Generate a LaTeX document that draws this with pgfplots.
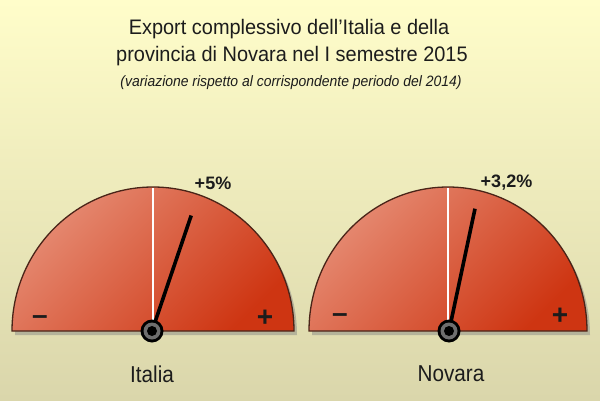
\documentclass[border=0pt]{standalone}
\usepackage{pgfplots}
\pgfplotsset{compat=1.18}
\usepackage{fontspec}
\setmainfont{Liberation Sans}
\definecolor{bgtop}{HTML}{FFFDCA}
\definecolor{bgbot}{HTML}{DAD6AB}
\definecolor{glight}{HTML}{E68C74}
\definecolor{gdark}{HTML}{CE3512}
\definecolor{gedge}{HTML}{4A2418}
\definecolor{txt}{HTML}{1C1C1C}
\definecolor{pivgray}{HTML}{6E6E6E}
\begin{document}
\begin{tikzpicture}
\begin{axis}[width=600pt,height=400pt,scale only axis,
  xmin=0,xmax=600,ymin=0,ymax=400,hide axis,clip=false]
% background
\shade[top color=bgtop,bottom color=bgbot] (axis cs:0,0) rectangle (axis cs:600,400);
% ---- Italia gauge
\fill[black!50,opacity=0.45] (axis cs:15,65) arc[start angle=180,end angle=0,x radius=141pt,y radius=144pt] -- cycle;
\shade[top color=glight,bottom color=gdark,shading angle=45] (axis cs:12,69) arc[start angle=180,end angle=0,x radius=141pt,y radius=144pt] -- cycle;
\draw[gedge,line width=1.3pt] (axis cs:12,69) arc[start angle=180,end angle=0,x radius=141pt,y radius=144pt] -- cycle;
\draw[white,line width=1.3pt] (axis cs:153,70) -- (axis cs:153,212.5);
% ---- Novara gauge
\fill[black!50,opacity=0.45] (axis cs:312,65) arc[start angle=180,end angle=0,x radius=139pt,y radius=144pt] -- cycle;
\shade[top color=glight,bottom color=gdark,shading angle=45] (axis cs:309,69) arc[start angle=180,end angle=0,x radius=139pt,y radius=144pt] -- cycle;
\draw[gedge,line width=1.3pt] (axis cs:309,69) arc[start angle=180,end angle=0,x radius=139pt,y radius=144pt] -- cycle;
\draw[white,line width=1.3pt] (axis cs:448,70) -- (axis cs:448,212.5);
% ---- needles (value -> 3.75 deg per %)
\addplot[black,line width=3.6pt,no marks] coordinates {(152,69) (191.2,184.5)}; % +5%
\addplot[black,line width=3.6pt,no marks] coordinates {(449,69) (475.0,191.3)}; % +3,2%
% pivots
\fill[black] (axis cs:152,69) circle[radius=11.5pt];
\fill[pivgray] (axis cs:152,69) circle[radius=8.5pt];
\fill[black] (axis cs:152,69) circle[radius=5pt];
\fill[black] (axis cs:449,69) circle[radius=11.5pt];
\fill[pivgray] (axis cs:449,69) circle[radius=8.5pt];
\fill[black] (axis cs:449,69) circle[radius=5pt];
% signs
\node[txt,font=\bfseries\fontsize{28}{30}\selectfont,anchor=base] at (axis cs:40,76) {–};
\node[txt,font=\bfseries\fontsize{28}{30}\selectfont,anchor=base] at (axis cs:265,73.4) {+};
\node[txt,font=\bfseries\fontsize{28}{30}\selectfont,anchor=base] at (axis cs:340,78) {–};
\node[txt,font=\bfseries\fontsize{28}{30}\selectfont,anchor=base] at (axis cs:560,75.4) {+};
% value labels
\node[txt,font=\bfseries\fontsize{18}{20}\selectfont,anchor=base] at (axis cs:213,211) {+5\%};
\node[txt,font=\bfseries\fontsize{18}{20}\selectfont,anchor=base] at (axis cs:506.5,213) {+3,2\%};
% category labels
\node[txt,font=\fontsize{23}{25}\selectfont,anchor=base,xscale=0.9,transform shape] at (axis cs:152,17.3) {Italia};
\node[txt,font=\fontsize{23}{25}\selectfont,anchor=base,xscale=0.9,transform shape] at (axis cs:451,18.3) {Novara};
% titles
\node[txt,font=\fontsize{21}{24}\selectfont,anchor=base,xscale=0.95,transform shape] at (axis cs:289,365) {Export complessivo dell’Italia e della};
\node[txt,font=\fontsize{21}{24}\selectfont,anchor=base,xscale=0.95,transform shape] at (axis cs:292,338) {provincia di Novara nel I semestre 2015};
\node[txt,font=\itshape\fontsize{15}{17}\selectfont,anchor=base,xscale=0.93,transform shape] at (axis cs:291,314) {(variazione rispetto al corrispondente periodo del 2014)};
\end{axis}
\end{tikzpicture}
\end{document}
